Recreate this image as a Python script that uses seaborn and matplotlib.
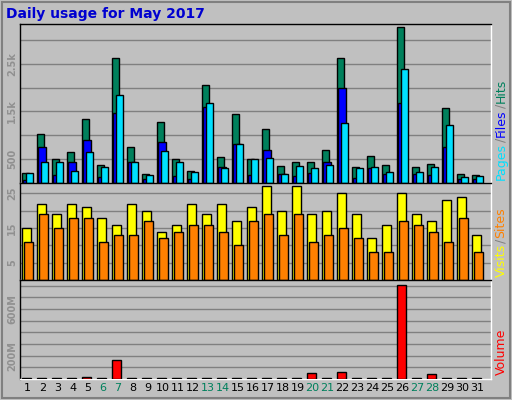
import matplotlib
matplotlib.use("Agg")
import matplotlib.pyplot as plt
import seaborn as sns
import numpy as np

days = list(range(1, 32))
hits = [214,1030,500,640,1350,385,2610,750,190,1285,500,257,2055,535,1435,500,1135,365,450,450,685,2610,343,557,385,3257,343,407,1565,190,171]
files = [70,750,170,450,900,130,1457,450,85,857,150,85,1585,343,814,170,685,190,150,214,430,1993,107,321,190,1671,190,170,750,85,85]
pages = [214,450,430,257,640,343,1843,430,170,664,430,236,1671,321,814,500,514,190,364,321,385,1264,321,343,236,2378,236,343,1221,130,150]
visits = [15,22,19,22,21,18,16,22,20,14,16,22,19,22,17,21,27,20,27,19,20,25,19,12,16,25,19,17,23,24,13]
sites = [11,19,15,18,18,11,13,13,17,12,14,16,16,14,10,17,19,13,19,11,13,15,12,8,8,17,16,14,11,18,8]
volume_mb = [5,5,5,5,21,5,164,5,5,5,5,5,5,5,5,5,5,5,5,48,5,57,5,5,5,809,5,39,5,5,5]
weekend = {6,7,13,14,20,21,27,28}

sns.set_style("white")
plt.rcParams['font.family'] = ['DejaVu Sans']
BG = "#C0C0C0"
fig = plt.figure(figsize=(5.12, 4.0), dpi=100, facecolor=BG)
fig.patches.append(plt.Rectangle((0.004, 0.004), 0.992, 0.992, transform=fig.transFigure,
                                 fill=False, edgecolor="#808080", lw=1.5))
L, R = 20/512, 491/512
def ax_at(top, bot):
    return fig.add_axes([L, 1-bot/400, R-L, (bot-top)/400])
ax1 = ax_at(24, 183)
ax2 = ax_at(183, 280)
ax3 = ax_at(280, 379)
x = np.array(days, dtype=float)
w = 0.5
kw = dict(edgecolor="black", linewidth=1, align="edge")
ax1.bar(x-0.38, hits, w, color="#00805C", **kw, zorder=3)
ax1.bar(x-0.29, files, 0.53, color="#0000FF", **kw, zorder=4)
ax1.bar(x-0.11, pages, w, color="#00E0FF", **kw, zorder=5)
ax2.bar(x-0.38, visits, 0.62, color="#FFFF00", **kw, zorder=3)
ax2.bar(x-0.24, sites, 0.62, color="#FF8000", **kw, zorder=4)
ax3.bar(x-0.38, volume_mb, 0.62, color="#FF0000", **kw, zorder=3)

ax1.set_ylim(0, 3330); ax2.set_ylim(0, 28); ax3.set_ylim(0, 850)
for ax, grid, ticks, labels in [
    (ax1, np.arange(500, 3330, 500), [500, 1500, 2500], ["500", "1.5k", "2.5k"]),
    (ax2, np.arange(5, 28, 5), [5, 15, 25], ["5", "15", "25"]),
    (ax3, np.arange(100, 850, 100), [200, 600], ["200M", "600M"])]:
    ax.set_facecolor(BG)
    ax.set_xlim(0.5, 31.9)
    for g in grid:
        ax.axhline(g, color="#808080", lw=1, zorder=1)
    ax.set_yticks(ticks)
    ax.set_yticklabels(labels, rotation=90, va="center", color="#909090",
                       fontsize=7, fontweight="bold")
    ax.tick_params(axis="y", length=0, pad=2)
    ax.tick_params(axis="x", length=0)
    for s in ax.spines.values():
        s.set_color("black"); s.set_linewidth(1)
    ax.spines["bottom"].set_color("white"); ax.spines["right"].set_color("white")
ax1.set_xticks([]); ax2.set_xticks([])
ax3.set_xticks(days)
ax3.set_xticklabels([str(d) for d in days], fontsize=8)
for lab, d in zip(ax3.get_xticklabels(), days):
    lab.set_color("#00805C" if d in weekend else "black")
ax3.tick_params(axis="x", pad=3)

fig.text(6/512, 1-14/400, "Daily usage for May 2017", color="#0000D0",
         fontsize=10, fontweight="bold", va="center")

def vlabel(parts, ybot):
    y = ybot
    for txt, col, h in parts:
        fig.text(501/512, y/400, txt, rotation=90, color=col, fontsize=9,
                 ha="center", va="bottom")
        y += h
vlabel([("Pages", "#00E0FF", 38), ("/", "#808080", 5), ("Files", "#0000FF", 29),
        ("/", "#808080", 5), ("Hits", "#00805C", 30)], 400-180)
vlabel([("Visits", "#FFFF00", 34), ("/", "#808080", 5), ("Sites", "#FF8000", 30)], 400-277)
vlabel([("Volume", "#FF0000", 50)], 400-375)

fig.savefig("out.png", dpi=100, facecolor=BG)
